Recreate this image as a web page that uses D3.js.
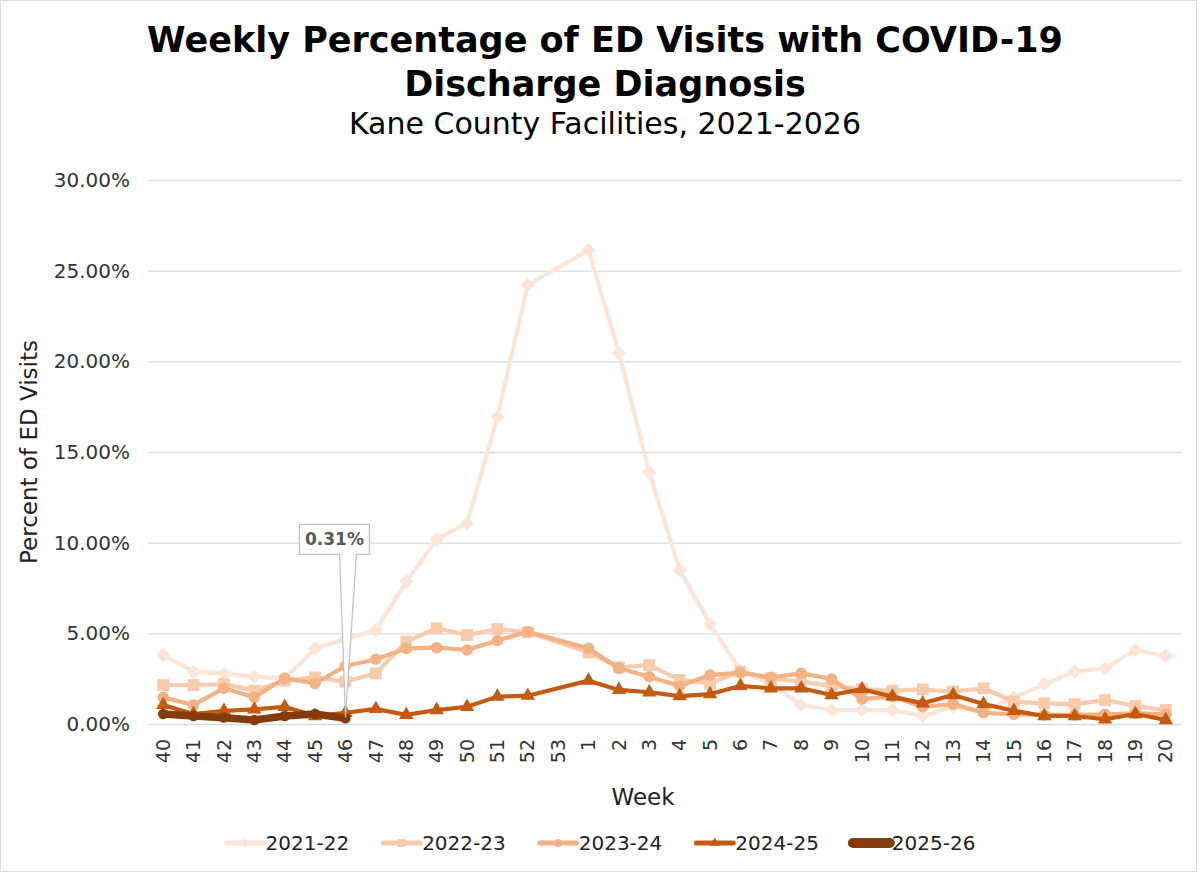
<!DOCTYPE html>
<html>
<head>
<meta charset="utf-8">
<script src="https://cdn.jsdelivr.net/npm/d3@7"></script>
<style>
  body { margin: 0; background: #fff; }
  text { font-family: "DejaVu Sans", Verdana, sans-serif; }
</style>
</head>
<body>
<script>
/* CONSTANTS AND GLOBALS */
const width = 1200;
const height = 872;
const margin = { top: 180, bottom: 148, left: 148, right: 19 };

/* DATA (percent of ED visits, week 53 has no data) */
const weeks = ["40","41","42","43","44","45","46","47","48","49","50","51","52","53",
  "1","2","3","4","5","6","7","8","9","10","11","12","13","14","15","16","17","18","19","20"];

const seasons = ["2021-22", "2022-23", "2023-24", "2024-25", "2025-26"];

const s2122 = [3.80, 2.89, 2.76, 2.61, 2.52, 4.17, 4.67, 5.18, 7.85, 10.19, 11.07, 16.95, 24.21, null,
  26.12, 20.48, 13.88, 8.49, 5.52, 2.95, 2.20, 1.05, 0.77, 0.77, 0.77, 0.44, 0.95, 0.70, 1.47, 2.20, 2.89, 3.07, 4.08, 3.75];
const s2223 = [2.15, 2.15, 2.20, 1.84, 2.39, 2.57, 2.34, 2.79, 4.54, 5.28, 4.91, 5.24, 5.06, null,
  3.95, 3.13, 3.25, 2.43, 2.24, 2.89, 2.52, 2.34, 2.10, 1.92, 1.84, 1.91, 1.78, 1.97, 1.23, 1.14, 1.10, 1.32, 0.99, 0.77];
const s2324 = [1.47, 1.05, 1.97, 1.47, 2.52, 2.24, 3.20, 3.57, 4.17, 4.21, 4.08, 4.60, 5.09, null,
  4.17, 3.07, 2.61, 2.10, 2.70, 2.83, 2.57, 2.79, 2.48, 1.38, 1.51, 0.95, 1.10, 0.62, 0.53, 0.50, 0.50, 0.53, 0.59, 0.53];
const s2425 = [1.05, 0.55, 0.72, 0.81, 0.95, 0.44, 0.62, 0.83, 0.50, 0.77, 0.95, 1.51, 1.56, null,
  2.39, 1.88, 1.75, 1.54, 1.65, 2.10, 1.97, 1.97, 1.60, 1.92, 1.51, 1.14, 1.60, 1.10, 0.73, 0.44, 0.44, 0.26, 0.55, 0.22];
const s2526 = [0.55, 0.44, 0.35, 0.22, 0.44, 0.55, 0.31];

const yTicks = [0, 0.05, 0.10, 0.15, 0.20, 0.25, 0.30];

const calloutWeek = "46";
const calloutValue = 0.31;

// series styles
const seriesValues = [s2122, s2223, s2324, s2425, s2526];
const colors = ["#FBE5D6", "#F8CBAD", "#F4B183", "#C55A11", "#843C0C"];
const strokeW = [4.2, 4.2, 4.2, 4.2, 7.5];
const symbols = [
  { type: d3.symbolSquare, size: 100, rotate: 45 },
  { type: d3.symbolSquare, size: 140, rotate: 0 },
  { type: d3.symbolCircle, size: 105, rotate: 0 },
  { type: d3.symbolTriangle, size: 90, rotate: 0 },
  { type: d3.symbolCircle, size: 85, rotate: 0 }
];

const series = seasons.map((s, i) => ({
  name: s,
  color: colors[i],
  width: strokeW[i],
  symbol: symbols[i],
  values: weeks.map((w, j) => ({ week: w, value: seriesValues[i][j] }))
    .filter(d => d.value != null)
}));

/* SCALES */
const x = d3.scalePoint()
  .domain(weeks)
  .range([margin.left, width - margin.right])
  .padding(0.5);

const y = d3.scaleLinear()
  .domain([0, 0.30])
  .range([height - margin.bottom, margin.top]);

/* SVG */
const svg = d3.select("body").append("svg")
  .attr("width", width)
  .attr("height", height);

svg.append("rect")
  .attr("x", 0.5).attr("y", 0.5)
  .attr("width", width - 4).attr("height", height - 1)
  .attr("fill", "#fff")
  .attr("stroke", "#d9d9d9");

// titles
svg.append("text")
  .attr("x", 605).attr("y", 52)
  .attr("text-anchor", "middle")
  .attr("font-size", 35).attr("font-weight", "bold")
  .text("Weekly Percentage of ED Visits with COVID-19");
svg.append("text")
  .attr("x", 605).attr("y", 96)
  .attr("text-anchor", "middle")
  .attr("font-size", 35).attr("font-weight", "bold")
  .text("Discharge Diagnosis");
svg.append("text")
  .attr("x", 605).attr("y", 134)
  .attr("text-anchor", "middle")
  .attr("font-size", 30)
  .text("Kane County Facilities, 2021-2026");

// gridlines + y axis labels
const yAxis = d3.axisLeft(y)
  .tickValues(yTicks)
  .tickFormat(d3.format(".2%"))
  .tickSize(-(width - margin.left - margin.right))
  .tickPadding(18);

const gy = svg.append("g")
  .attr("transform", "translate(" + margin.left + ",0)")
  .call(yAxis);
gy.select(".domain").remove();
gy.selectAll(".tick line").attr("stroke", "#d9d9d9").attr("stroke-width", 1.3);
gy.selectAll(".tick text")
  .attr("font-size", 20)
  .attr("fill", "#333")
  .attr("font-family", "DejaVu Sans, sans-serif");

// x axis labels (rotated)
svg.selectAll(".week-label")
  .data(weeks)
  .enter()
  .append("text")
  .attr("class", "week-label")
  .attr("transform", d => "translate(" + x(d) + "," + (height - margin.bottom + 15) + ") rotate(-90)")
  .attr("text-anchor", "end")
  .attr("dy", "0.35em")
  .attr("font-size", 19)
  .attr("fill", "#333")
  .text(d => d);

// axis titles
svg.append("text")
  .attr("x", 643).attr("y", 805)
  .attr("text-anchor", "middle")
  .attr("font-size", 23)
  .attr("fill", "#222")
  .text("Week");
svg.append("text")
  .attr("transform", "translate(37," + ((margin.top + height - margin.bottom) / 2) + ") rotate(-90)")
  .attr("text-anchor", "middle")
  .attr("font-size", 23)
  .attr("fill", "#222")
  .text("Percent of ED Visits");

/* LINES AND MARKERS */
const line = d3.line()
  .x(d => x(d.week))
  .y(d => y(d.value / 100));

const sym = (s, scale) => d3.symbol().type(s.type).size(s.size * (scale || 1))();

const gSeries = svg.selectAll(".series")
  .data(series)
  .enter()
  .append("g")
  .attr("class", "series");

gSeries.append("path")
  .attr("d", d => line(d.values))
  .attr("fill", "none")
  .attr("stroke", d => d.color)
  .attr("stroke-width", d => d.width)
  .attr("stroke-linejoin", "round");

gSeries.each(function (s) {
  d3.select(this).selectAll(".marker")
    .data(s.values)
    .enter()
    .append("path")
    .attr("class", "marker")
    .attr("d", sym(s.symbol))
    .attr("transform", d => "translate(" + x(d.week) + "," + y(d.value / 100) + ") rotate(" + s.symbol.rotate + ")")
    .attr("fill", s.color);
});

/* CALLOUT */
const px = x(calloutWeek);
const py = y(calloutValue / 100);
const boxW = 70, boxH = 30;
const bx = px - 46, by = py - 164 - boxH;

svg.append("path")
  .attr("d", "M" + (px - 6) + "," + (by + boxH - 1) + " L" + px + "," + (py - 1) + " L" + (px + 11) + "," + (by + boxH - 1))
  .attr("fill", "#fff")
  .attr("stroke", "#bfbfbf")
  .attr("stroke-width", 1.2);
svg.append("rect")
  .attr("x", bx).attr("y", by)
  .attr("width", boxW).attr("height", boxH)
  .attr("fill", "#fff")
  .attr("stroke", "#bfbfbf")
  .attr("stroke-width", 1.2);
svg.append("rect")
  .attr("x", px - 5).attr("y", by + boxH - 2)
  .attr("width", 15).attr("height", 3)
  .attr("fill", "#fff");
svg.append("text")
  .attr("x", bx + boxW / 2).attr("y", by + boxH / 2)
  .attr("dy", "0.35em")
  .attr("text-anchor", "middle")
  .attr("font-size", 17).attr("font-weight", "bold")
  .attr("fill", "#595959")
  .text(calloutValue.toFixed(2) + "%");

/* LEGEND */
const legend = svg.append("g").attr("class", "legend");
const sampleW = 37;
let lx = 0;
series.forEach(s => {
  const item = legend.append("g").attr("transform", "translate(" + lx + ",0)");
  item.append("line")
    .attr("x1", 0).attr("x2", sampleW)
    .attr("stroke", s.color)
    .attr("stroke-width", s.name === "2025-26" ? 10 : 5)
    .attr("stroke-linecap", "round");
  item.append("path")
    .attr("d", sym(s.symbol, 0.45))
    .attr("transform", "translate(" + (sampleW / 2) + ",0) rotate(" + s.symbol.rotate + ")")
    .attr("fill", s.color);
  const t = item.append("text")
    .attr("x", sampleW + 2)
    .attr("dy", "0.35em")
    .attr("font-size", 20)
    .attr("fill", "#222")
    .text(s.name);
  lx += sampleW + 2 + t.node().getComputedTextLength() + 34;
});
const legendW = lx - 34;
legend.attr("transform", "translate(" + (601 - legendW / 2) + ",843)");
</script>
</body>
</html>
